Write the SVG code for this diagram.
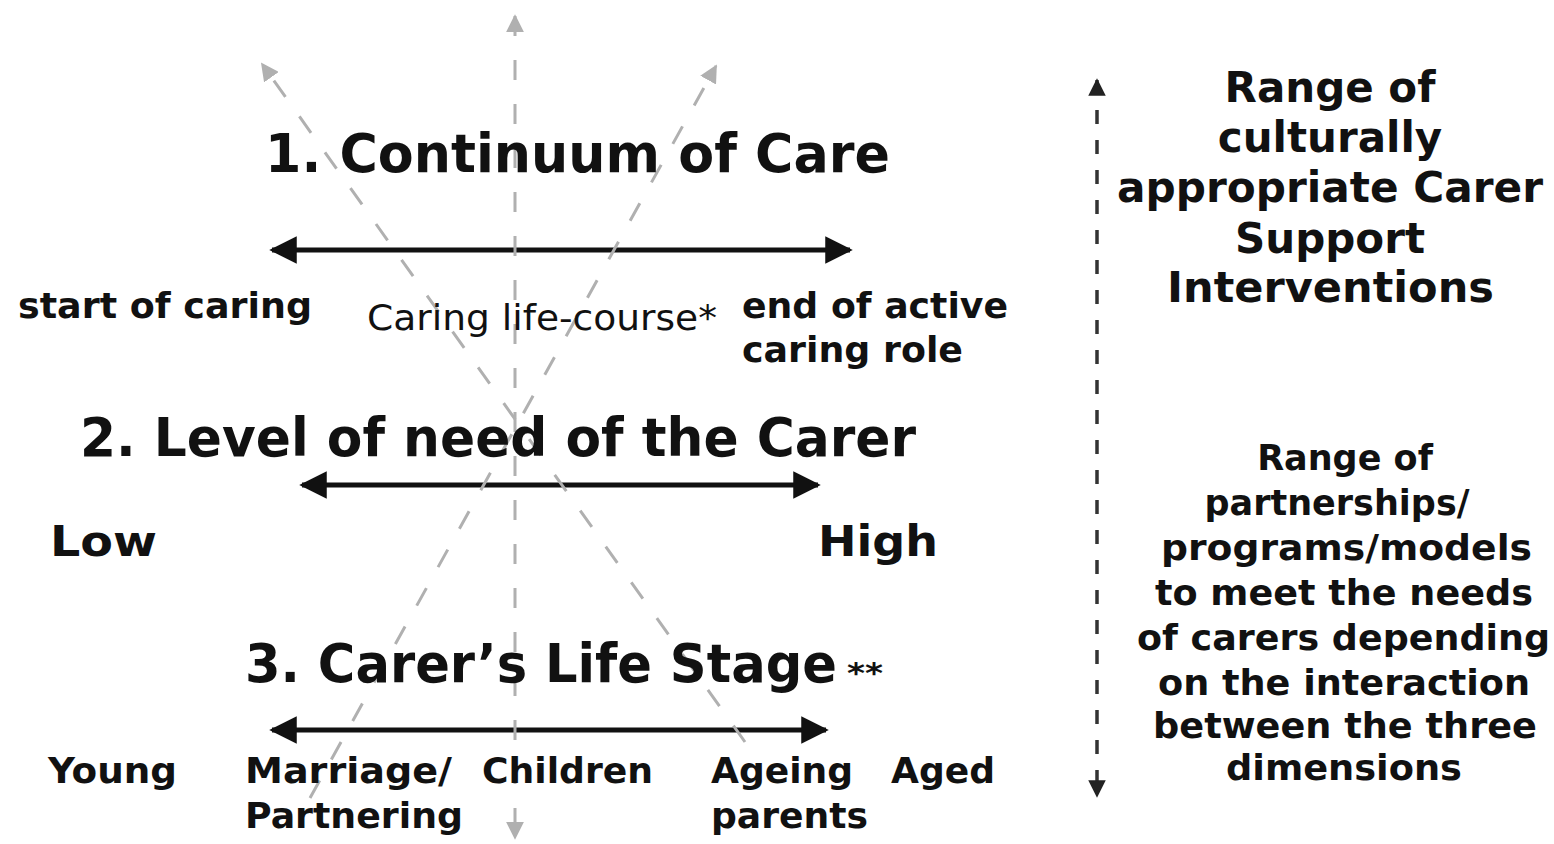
<svg xmlns="http://www.w3.org/2000/svg" width="1554" height="844" viewBox="0 0 1554 844">
<style>
.t{font-family:"DejaVu Sans","Verdana",sans-serif;font-weight:bold;fill:#111}
.r{font-family:"DejaVu Sans","Verdana",sans-serif;font-weight:normal;fill:#111}
.mid{text-anchor:middle}
.blk{stroke:#111;stroke-width:5;fill:none}
.gry{stroke:#b0b0b0;stroke-width:3;fill:none;stroke-dasharray:20 24}
.vd{stroke:#333;stroke-width:3.5;fill:none;stroke-dasharray:14 16}
</style>
<defs>
<marker id="ab" viewBox="0 0 10 10" refX="9" refY="5" markerWidth="5.5" markerHeight="5.5" orient="auto-start-reverse" markerUnits="strokeWidth"><path d="M0,0 L10,5 L0,10 z" fill="#111"/></marker>
<marker id="ag" viewBox="0 0 10 10" refX="9" refY="5" markerWidth="6" markerHeight="6" orient="auto-start-reverse" markerUnits="strokeWidth"><path d="M0,0 L10,5 L0,10 z" fill="#b0b0b0"/></marker>
<marker id="av" viewBox="0 0 10 10" refX="9" refY="5" markerWidth="6" markerHeight="5" orient="auto-start-reverse" markerUnits="strokeWidth"><path d="M0,0 L10,5 L0,10 z" fill="#222"/></marker>
</defs>
<g id="connectors">
<line class="blk" x1="272" y1="250" x2="850" y2="250" marker-start="url(#ab)" marker-end="url(#ab)"/>
<line class="blk" x1="302" y1="485" x2="818" y2="485" marker-start="url(#ab)" marker-end="url(#ab)"/>
<line class="blk" x1="272" y1="730" x2="826" y2="730" marker-start="url(#ab)" marker-end="url(#ab)"/>
<line class="gry" x1="515" y1="16" x2="515" y2="838" marker-start="url(#ag)" marker-end="url(#ag)"/>
<line class="gry" x1="745" y1="742" x2="262" y2="64" marker-end="url(#ag)"/>
<line class="gry" x1="310" y1="798" x2="716" y2="66" marker-end="url(#ag)"/>
<line class="vd" x1="1097" y1="80" x2="1097" y2="796" marker-start="url(#av)" marker-end="url(#av)"/>
</g>
<g id="dim1">
<text class="t" x="265" y="172" font-size="54" textLength="625" lengthAdjust="spacingAndGlyphs">1. Continuum of Care</text>
<text class="t" x="18" y="318" font-size="35" textLength="294" lengthAdjust="spacingAndGlyphs">start of caring</text>
<text class="r" x="367" y="330" font-size="35" textLength="350" lengthAdjust="spacingAndGlyphs">Caring life-course*</text>
<text class="t" x="742" y="318" font-size="35" textLength="266" lengthAdjust="spacingAndGlyphs">end of active</text>
<text class="t" x="742" y="362" font-size="35" textLength="221" lengthAdjust="spacingAndGlyphs">caring role</text>
</g>
<g id="dim2">
<text class="t" x="80" y="456" font-size="54" textLength="836" lengthAdjust="spacingAndGlyphs">2. Level of need of the Carer</text>
<text class="t" x="50" y="556" font-size="42" textLength="107" lengthAdjust="spacingAndGlyphs">Low</text>
<text class="t" x="818" y="556" font-size="42" textLength="120" lengthAdjust="spacingAndGlyphs">High</text>
</g>
<g id="dim3">
<text class="t" x="245" y="682" font-size="53" textLength="592" lengthAdjust="spacingAndGlyphs">3. Carer’s Life Stage</text>
<text class="t" x="847" y="683" font-size="28" textLength="36" lengthAdjust="spacingAndGlyphs">**</text>
<text class="t" x="48" y="783" font-size="35" textLength="129" lengthAdjust="spacingAndGlyphs">Young</text>
<text class="t" x="245" y="783" font-size="35" textLength="207" lengthAdjust="spacingAndGlyphs">Marriage/</text>
<text class="t" x="245" y="828" font-size="35" textLength="218" lengthAdjust="spacingAndGlyphs">Partnering</text>
<text class="t" x="482" y="783" font-size="35" textLength="171" lengthAdjust="spacingAndGlyphs">Children</text>
<text class="t" x="711" y="783" font-size="35" textLength="142" lengthAdjust="spacingAndGlyphs">Ageing</text>
<text class="t" x="711" y="828" font-size="35" textLength="157" lengthAdjust="spacingAndGlyphs">parents</text>
<text class="t" x="891" y="783" font-size="35" textLength="104" lengthAdjust="spacingAndGlyphs">Aged</text>
</g>
<g id="interventions">
<text class="t mid" x="1330" y="102" font-size="42">Range of</text>
<text class="t mid" x="1330" y="152" font-size="42">culturally</text>
<text class="t" x="1117" y="202" font-size="42" textLength="426" lengthAdjust="spacingAndGlyphs">appropriate Carer</text>
<text class="t mid" x="1330" y="253" font-size="42">Support</text>
<text class="t" x="1167" y="302" font-size="42" textLength="327" lengthAdjust="spacingAndGlyphs">Interventions</text>
</g>
<g id="partnerships">
<text class="t mid" x="1345" y="470" font-size="35">Range of</text>
<text class="t mid" x="1337" y="515" font-size="35">partnerships/</text>
<text class="t" x="1161" y="560" font-size="35" textLength="371" lengthAdjust="spacingAndGlyphs">programs/models</text>
<text class="t" x="1155" y="605" font-size="35" textLength="378" lengthAdjust="spacingAndGlyphs">to meet the needs</text>
<text class="t" x="1137" y="650" font-size="35" textLength="413" lengthAdjust="spacingAndGlyphs">of carers depending</text>
<text class="t" x="1158" y="695" font-size="35" textLength="372" lengthAdjust="spacingAndGlyphs">on the interaction</text>
<text class="t" x="1153" y="738" font-size="35" textLength="384" lengthAdjust="spacingAndGlyphs">between the three</text>
<text class="t" x="1226" y="780" font-size="35" textLength="236" lengthAdjust="spacingAndGlyphs">dimensions</text>
</g>
</svg>
